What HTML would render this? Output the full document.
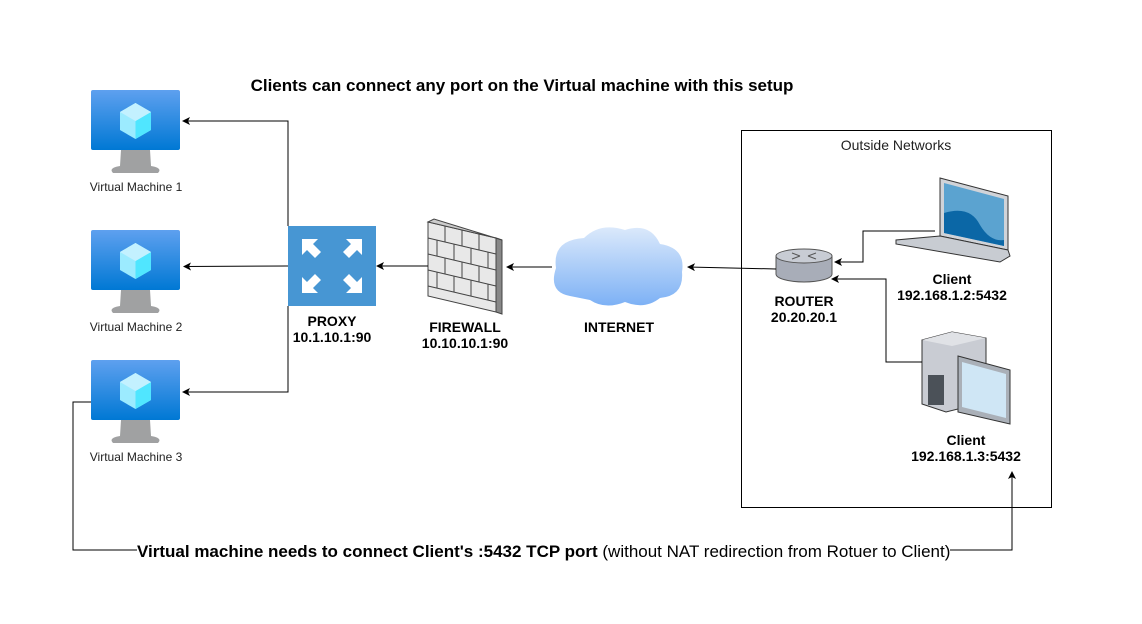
<!DOCTYPE html>
<html><head><meta charset="utf-8"><style>
html,body{margin:0;padding:0;background:#fff;}
svg{display:block;font-family:"Liberation Sans",Arial,sans-serif;}
</style></head><body>
<svg width="1142" height="624" viewBox="0 0 1142 624" xmlns="http://www.w3.org/2000/svg">
<defs>
<marker id="a" markerWidth="8" markerHeight="8" refX="7" refY="4" orient="auto" markerUnits="userSpaceOnUse">
<path d="M0,0 L8,4 L0,8 L2,4 Z" fill="#000"/></marker>
<linearGradient id="scr" x1="0" y1="0" x2="0" y2="1"><stop offset="0" stop-color="#5ea0ef"/><stop offset="1" stop-color="#0078d4"/></linearGradient>
<linearGradient id="cloud" x1="0" y1="0" x2="0" y2="1"><stop offset="0" stop-color="#dbe9fb"/><stop offset="1" stop-color="#7db1f5"/></linearGradient>
<g id="vm">
<rect x="0" y="0" width="89" height="60" rx="2" fill="url(#scr)"/>
<path d="M30,60 L59,60 L60,76 Q72,78 67,83 L22,83 Q17,78 29,76 Z" fill="#a0a1a2"/>
<path d="M44.5,13 L60,22 L60,40 L44.5,49 L29,40 L29,22 Z" fill="#9cebff"/>
<path d="M44.5,31 L60,22 L60,40 L44.5,49 Z" fill="#50e6ff"/>
<path d="M44.5,13 L60,22 L44.5,31 L29,22 Z" fill="#c3f1ff"/>
</g>
</defs>

<text x="522" y="91" font-size="17" font-weight="bold" text-anchor="middle">Clients can connect any port on the Virtual machine with this setup</text>

<use href="#vm" x="91" y="90"/>
<use href="#vm" x="91" y="230"/>
<use href="#vm" x="91" y="360"/>
<text x="136" y="191" font-size="12" text-anchor="middle" fill="#222">Virtual Machine 1</text>
<text x="136" y="331" font-size="12" text-anchor="middle" fill="#222">Virtual Machine 2</text>
<text x="136" y="461" font-size="12" text-anchor="middle" fill="#222">Virtual Machine 3</text>

<!-- proxy -->
<rect x="288" y="226" width="88" height="80" fill="#4796d3"/>
<g fill="#fff">
<path d="M302,239 L318,239 L313,244 L321,252 L315,258 L307,250 L302,255 Z"/>
<path d="M362,239 L346,239 L351,244 L343,252 L349,258 L357,250 L362,255 Z"/>
<path d="M302,293 L318,293 L313,288 L321,280 L315,274 L307,282 L302,277 Z"/>
<path d="M362,293 L346,293 L351,288 L343,280 L349,274 L357,282 L362,277 Z"/>
</g>
<text x="332" y="326" font-size="14" font-weight="bold" text-anchor="middle">PROXY</text>
<text x="332" y="342" font-size="14" font-weight="bold" text-anchor="middle">10.1.10.1:90</text>

<!-- firewall -->
<g stroke="#444" stroke-width="1">
<path d="M428,222 L496,238 L496,312 L428,296 Z" fill="#e8e8e8"/>
<path d="M496,238 L502,240 L502,314 L496,312 Z" fill="#888"/>
<path d="M428,222 L434,219 L502,240 L496,238 Z" fill="#ccc"/>
<path d="M428,238 L496,254 M428,254 L496,270 M428,270 L496,286 M428,286 L496,302" fill="none"/>
<path d="M445,226 L445,242 M462,230 L462,246 M479,234 L479,250 M437,240 L437,256 M454,244 L454,260 M471,248 L471,264 M488,252 L488,268 M445,258 L445,274 M462,262 L462,278 M479,266 L479,282 M437,272 L437,288 M454,276 L454,292 M471,280 L471,296 M488,284 L488,300" fill="none"/>
</g>
<text x="465" y="332" font-size="14" font-weight="bold" text-anchor="middle">FIREWALL</text>
<text x="465" y="348" font-size="14" font-weight="bold" text-anchor="middle">10.10.10.1:90</text>

<!-- cloud -->
<path d="M570,296 Q548,292 556,268 Q552,240 584,238 Q600,222 625,230 Q650,222 660,244 Q686,248 682,272 Q684,296 660,298 Q645,310 625,302 Q605,310 590,300 Z" fill="url(#cloud)"/>
<text x="619" y="332" font-size="14" font-weight="bold" text-anchor="middle">INTERNET</text>

<!-- outside box -->
<rect x="741.5" y="130.5" width="310" height="377" fill="none" stroke="#000"/>
<text x="896" y="150" font-size="14" text-anchor="middle" fill="#222">Outside Networks</text>

<!-- router -->
<path d="M776,256 L776,274 A28,8 0 0 0 832,274 L832,256 Z" fill="#a8adb8" stroke="#555"/>
<ellipse cx="804" cy="256" rx="28" ry="7" fill="#c8ccd4" stroke="#555"/>
<path d="M792,253 L800,256 M816,253 L808,256 M792,259 L800,256 M816,259 L808,256" stroke="#555"/>
<text x="804" y="306" font-size="14" font-weight="bold" text-anchor="middle">ROUTER</text>
<text x="804" y="322" font-size="14" font-weight="bold" text-anchor="middle">20.20.20.1</text>

<!-- laptop -->
<path d="M940,178 L1008,196 L1008,250 L940,236 Z" fill="#d0d3d8" stroke="#333"/>
<path d="M944,183 L1004,199 L1004,246 L944,233 Z" fill="#5ba3d0"/>
<path d="M944,213 Q970,205 980,225 Q990,242 1004,240 L1004,246 L944,233 Z" fill="#0b67a6"/>
<path d="M940,236 L1008,250 L1010,256 L1000,262 L896,244 L896,240 Z" fill="#c8ccd2" stroke="#333"/>
<text x="952" y="284" font-size="14" font-weight="bold" text-anchor="middle">Client</text>
<text x="952" y="300" font-size="14" font-weight="bold" text-anchor="middle">192.168.1.2:5432</text>

<!-- desktop -->
<path d="M922,340 L952,332 L986,338 L986,402 L946,412 L922,404 Z" fill="#c9ccd3" stroke="#333"/>
<path d="M922,340 L952,332 L986,338 L952,346 Z" fill="#e0e2e6"/>
<rect x="928" y="375" width="16" height="30" fill="#4b5158"/>
<path d="M958,356 L1010,370 L1010,424 L958,412 Z" fill="#aab0b8" stroke="#333"/>
<path d="M962,362 L1006,374 L1006,418 L962,407 Z" fill="#cfe6f5"/>
<text x="966" y="445" font-size="14" font-weight="bold" text-anchor="middle">Client</text>
<text x="966" y="461" font-size="14" font-weight="bold" text-anchor="middle">192.168.1.3:5432</text>

<!-- connectors -->
<g fill="none" stroke="#000" stroke-width="1">
<path d="M288,226 L288,121 L183,121" marker-end="url(#a)"/>
<path d="M288,266 L184,266.5" marker-end="url(#a)"/>
<path d="M288,306 L288,392 L183,392" marker-end="url(#a)"/>
<path d="M428,266 L377,266" marker-end="url(#a)"/>
<path d="M552,267 L507,267" marker-end="url(#a)"/>
<path d="M776,269 L688,267" marker-end="url(#a)"/>
<path d="M935,231 L863,231 L863,262 L835,262" marker-end="url(#a)"/>
<path d="M922,362 L886,362 L886,279 L832,279" marker-end="url(#a)"/>
<path d="M91,402 L73,402 L73,550 L137,550"/>
<path d="M950,550 L1012,550 L1012,472" marker-end="url(#a)"/>
</g>
<text x="137" y="557" font-size="17"><tspan font-weight="bold">Virtual machine needs to connect Client's :5432 TCP port</tspan> (without NAT redirection from Rotuer to Client)</text>
</svg>
</body></html>
